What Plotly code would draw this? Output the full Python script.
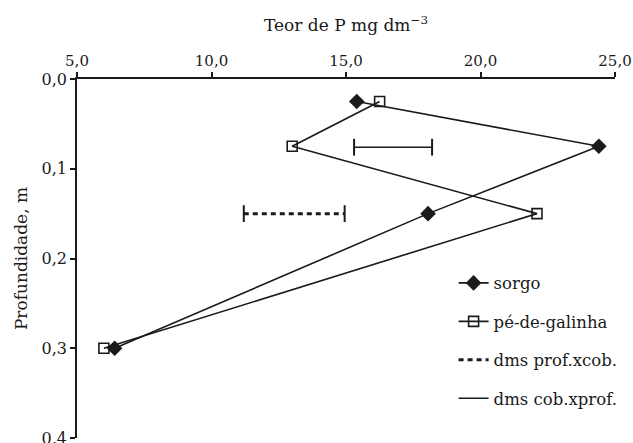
import plotly.graph_objects as go

depth = [0.025, 0.075, 0.15, 0.30]
sorgo = [15.4, 24.4, 18.05, 6.4]
pe_de_galinha = [16.25, 13.0, 22.1, 6.0]

dms_prof_x = [11.2, 14.95]
dms_prof_y = [0.15, 0.15]
dms_cob_x = [15.3, 18.2]
dms_cob_y = [0.076, 0.076]

x_ticks = [5, 10, 15, 20, 25]
y_ticks = [0.0, 0.1, 0.2, 0.3, 0.4]

FONT = "DejaVu Serif"
BLACK = "#1a1a1a"

fig = go.Figure()
fig.add_trace(go.Scatter(
    x=sorgo, y=depth, mode="lines+markers", name="sorgo", legendgroup="a",
    line=dict(color=BLACK, width=1.6),
    marker=dict(symbol="diamond", size=12, color=BLACK)))
fig.add_trace(go.Scatter(
    x=pe_de_galinha, y=depth, mode="lines+markers", name="pé-de-galinha", legendgroup="b",
    line=dict(color=BLACK, width=1.6),
    marker=dict(symbol="square-open", size=10, color=BLACK, line=dict(width=1.6, color=BLACK))))
fig.add_trace(go.Scatter(
    x=dms_prof_x, y=dms_prof_y, mode="lines", name="dms prof.xcob.", legendgroup="c",
    line=dict(color=BLACK, width=3, dash="5px,4px")))
fig.add_trace(go.Scatter(
    x=dms_prof_x, y=dms_prof_y, mode="markers", showlegend=False, legendgroup="c",
    marker=dict(symbol="line-ns", size=12, line=dict(width=2, color=BLACK))))
fig.add_trace(go.Scatter(
    x=dms_cob_x, y=dms_cob_y, mode="lines", name="dms cob.xprof.", legendgroup="d",
    line=dict(color=BLACK, width=1.6)))
fig.add_trace(go.Scatter(
    x=dms_cob_x, y=dms_cob_y, mode="markers", showlegend=False, legendgroup="d",
    marker=dict(symbol="line-ns", size=12, line=dict(width=2, color=BLACK))))

fig.update_layout(
    width=633, height=443,
    margin=dict(l=77, r=18, t=79, b=5),
    paper_bgcolor="white", plot_bgcolor="white",
    separators=",.",
    font=dict(family=FONT, size=16, color=BLACK),
    showlegend=True,
    legend=dict(x=0.70, y=0.48, xanchor="left", yanchor="top",
                traceorder="grouped", tracegroupgap=14,
                font=dict(family=FONT, size=16.5, color=BLACK),
                bgcolor="rgba(0,0,0,0)"),
    xaxis=dict(side="top", range=[5, 25], tickvals=x_ticks, tickformat=".1f",
               ticklabeloverflow="allow", automargin=False,
               showgrid=False, zeroline=False, showline=True, linecolor=BLACK, linewidth=1.5,
               ticks="outside", ticklen=5, tickwidth=1.5, tickcolor=BLACK,
               tickfont=dict(family=FONT, size=15),
               title=dict(text="Teor de P mg dm<sup>−3</sup>", font=dict(family=FONT, size=17), standoff=16)),
    yaxis=dict(range=[0.4, 0.0], tickvals=y_ticks, tickformat=".1f",
               ticklabeloverflow="allow", automargin=False,
               showgrid=False, zeroline=False, showline=True, linecolor=BLACK, linewidth=1.5,
               ticks="outside", ticklen=5, tickwidth=1.5, tickcolor=BLACK,
               tickfont=dict(family=FONT, size=16),
               title=dict(text="Profundidade, m", font=dict(family=FONT, size=17), standoff=10)),
)

fig.write_html("out.html")
